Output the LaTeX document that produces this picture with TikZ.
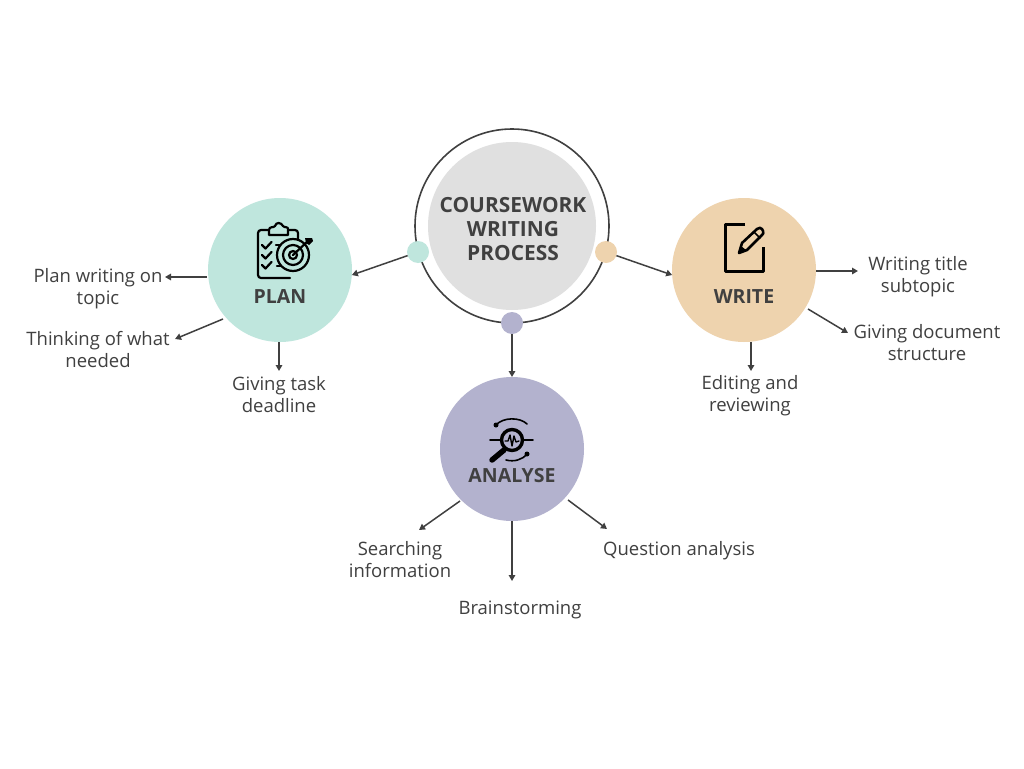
\documentclass[tikz,border=0pt]{standalone}
\usepackage{fontspec}
\setmainfont{Open Sans}
\usetikzlibrary{arrows.meta}
\definecolor{ink}{HTML}{404040}
\definecolor{mint}{HTML}{BFE6DD}
\definecolor{sand}{HTML}{EED3AE}
\definecolor{lav}{HTML}{B3B2CE}
\definecolor{pale}{HTML}{E0E0E0}
\tikzset{
  x=1pt,y=-1pt,
  disc/.style={circle,inner sep=0pt,outer sep=0pt,minimum size=144pt,fill=#1},
  dotnode/.style={circle,inner sep=0pt,outer sep=0pt,minimum size=22pt,fill=#1},
  leaf/.style={align=center,text=ink,inner sep=0pt,font=\fontsize{18.5}{22}\selectfont},
  head/.style={align=center,text=ink,inner sep=0pt,font=\fontsize{19.5}{24}\selectfont\bfseries},
  link/.style={draw=ink,line width=1.5pt,-{Triangle[length=6pt,width=6.5pt]}},
  icon/.style={draw=black,line width=2.2pt,line cap=round,line join=round},
}
\begin{document}
\begin{tikzpicture}
\useasboundingbox (0,0) rectangle (1024,768);
\fill[white] (0,0) rectangle (1024,768);
% hub
\node[circle,inner sep=0pt,outer sep=0pt,minimum size=194pt,draw=ink,line width=1.6pt] (ring) at (512,226) {};
\node[circle,inner sep=0pt,outer sep=0pt,minimum size=168pt,fill=pale] (hub) at (512,226) {};
\node[head,font=\fontsize{20.9}{24}\selectfont\bfseries] (hubtext) at (513,229.5) {COURSEWORK\\WRITING\\PROCESS};
% main discs
\node[disc=mint] (plan) at (280,270) {};
\node[disc=sand] (write) at (744,270) {};
\node[disc=lav] (analyse) at (512,449) {};
\node[dotnode=mint] (dotL) at (418,252) {};
\node[dotnode=sand] (dotR) at (606,252) {};
\node[dotnode=lav] (dotB) at (512,323) {};
\node[head] (plantext) at (280,297) {PLAN};
\node[head] (writetext) at (744,297) {WRITE};
\node[head] (analysetext) at (512,476) {ANALYSE};
% leaf texts
\node[leaf] (p1) at (98,288.5) {Plan writing on\\topic};
\node[leaf] (p2) at (98,350) {Thinking of what\\needed};
\node[leaf] (p3) at (279,395) {Giving task\\deadline};
\node[leaf] (w1) at (918,277) {Writing title\\subtopic};
\node[leaf] (w2) at (927,343) {Giving document\\structure};
\node[leaf] (w3) at (750,396) {Editing and\\reviewing};
\node[leaf] (a1) at (400,560) {Searching\\information};
\node[leaf] (a2) at (520,609.5) {Brainstorming};
\node[leaf] (a3) at (679,550.5) {Question analysis};
% arrow ends
\coordinate (p1s) at (207,277); \coordinate (p1e) at (165,277);
\coordinate (p2s) at (223,319); \coordinate (p2e) at (175,339);
\coordinate (p3s) at (279,342); \coordinate (p3e) at (279,371);
\coordinate (w1s) at (816,271); \coordinate (w1e) at (858,271);
\coordinate (w2s) at (808,309); \coordinate (w2e) at (848,333);
\coordinate (w3s) at (751,342); \coordinate (w3e) at (751,371);
\coordinate (a1s) at (460,501); \coordinate (a1e) at (419,530);
\coordinate (a2s) at (512,521); \coordinate (a2e) at (512,581);
\coordinate (a3s) at (568,500); \coordinate (a3e) at (607,529);
% connectors
\draw[link] (dotL) -- (plan.-4);
\draw[link] (dotR) -- (write.184);
\draw[link] (dotB) -- (analyse.north);
\foreach \n in {p1,p2,p3,w1,w2,w3,a1,a2,a3} \draw[link] (\n s) -- (\n e);
% plan icon
\draw[icon,rounded corners=3pt] (285,230) -- (298,230) -- (298,241);
\draw[icon,rounded corners=3pt] (272,230) -- (258,230) -- (258,278) -- (290,278);
\draw[icon,fill=mint] (269,230) .. controls (269,226) and (274,228) .. (275,226) .. controls (276,222) and (281,222) .. (283,226) .. controls (284,228) and (289,226) .. (288,230) -- (288,235) -- (269,235) -- cycle;
\foreach \yy in {245,255,265} {
  \draw[icon] (262,\yy) -- (265.5,\yy+3.5) -- (271.5,\yy-3);
}
\draw[icon] (276,245) -- (284,245);
\draw[icon] (277,255) -- (279,255);
\draw[icon] (277,266) -- (284,266);
\draw[icon,fill=mint] (293,255) circle (16);
\draw[icon] (293,255) circle (10);
\draw[icon] (293,255) circle (4);
\draw[icon] (293,255) -- (308,241);
\fill[black] (305,238) -- (312,238) -- (313,241) -- (309,245) -- (306,243) -- cycle;
% write icon
\draw[icon,line width=3pt,line cap=butt] (745,224) -- (725,224) -- (725,271) -- (763,271) -- (763,247);
\draw[icon,line width=2.6pt] (739,253) -- (742,243) -- (757,229) .. controls (759,227) and (761,228) .. (762,229) -- (763,231) .. controls (764,233) and (763,234) .. (762,235) -- (747,250) -- cycle;
\draw[icon,line width=1.6pt] (754,232) -- (760,238);
\fill[black] (739,253) -- (741,246) -- (746,250) -- cycle;
% analyse icon
\draw[icon,line width=1.8pt] (490,440) -- (502,440);
\draw[icon,line width=1.8pt] (522,440) -- (533,440);
\draw[icon,line width=3.4pt] (512,440) circle (10.5);
\draw[icon,line width=1.4pt] (505,441) -- (508,441) -- (510,435) -- (512,446) -- (514,436) -- (516,442) -- (519,441);
\draw[icon,line width=5.5pt] (504,450) -- (492,460);
\draw[icon,line width=1.6pt] (496,425) .. controls (503,417) and (520,417) .. (527,424);
\draw[icon,line width=1.6pt] (527,454) .. controls (522,460) and (514,462) .. (506,460);
\fill[black] (496,425) circle (2.5) (527,454) circle (2.5);
\end{tikzpicture}
\end{document}
